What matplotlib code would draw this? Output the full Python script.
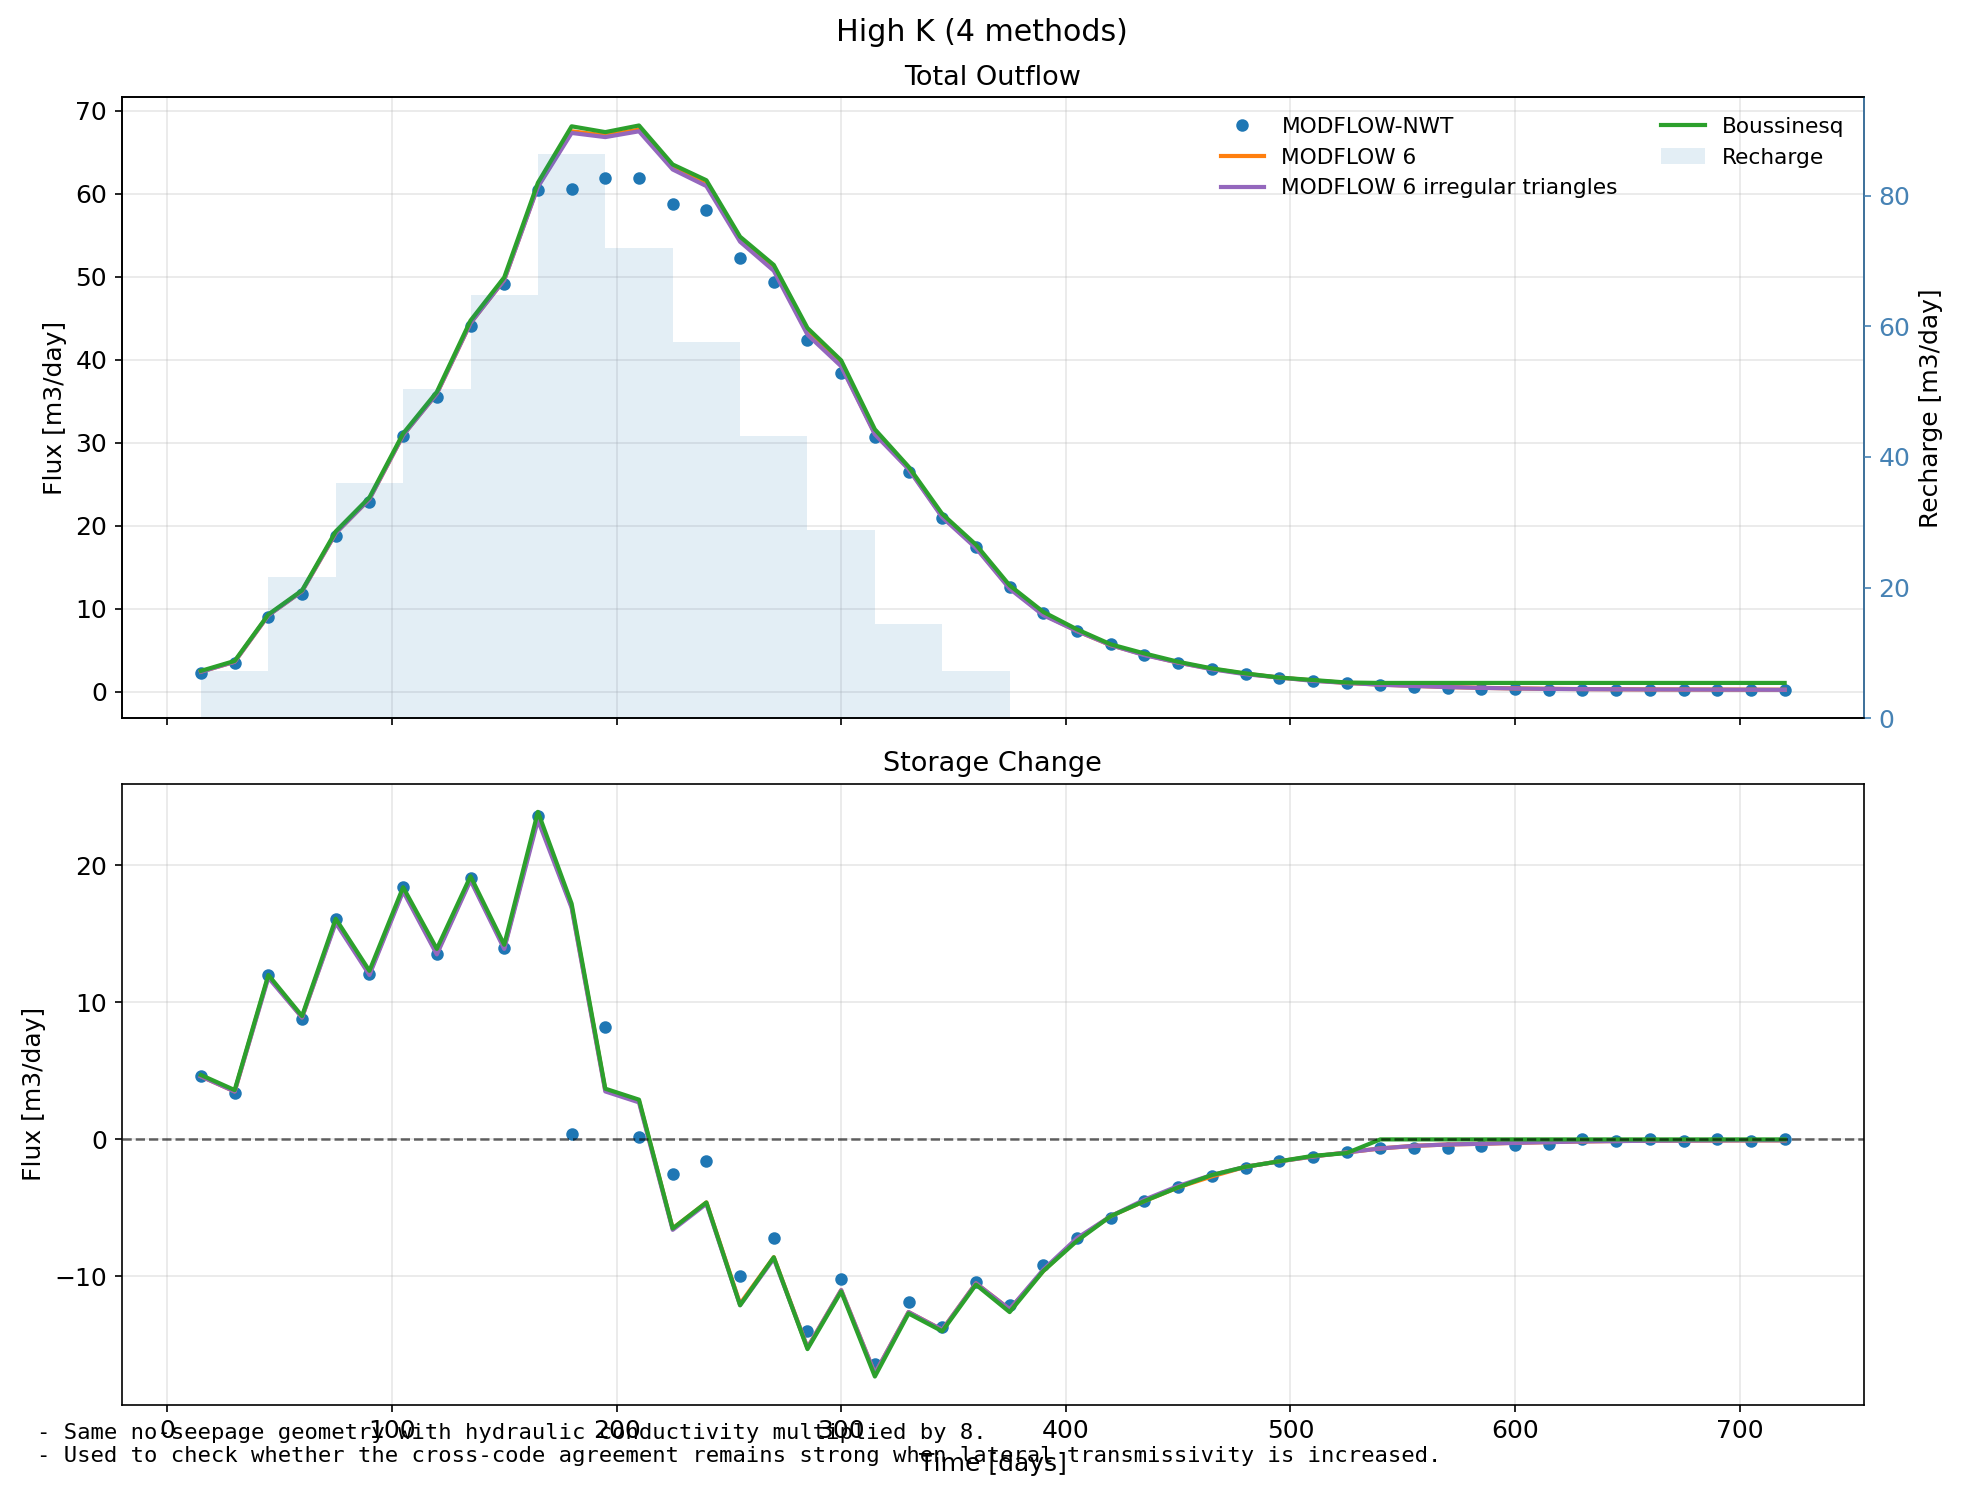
import matplotlib
matplotlib.use("Agg")
import matplotlib.pyplot as plt
import numpy as np

# ---------------- data ----------------
time_days = [15, 30, 45, 60, 75, 90, 105, 120, 135, 150, 165, 180, 195, 210, 225, 240,
             255, 270, 285, 300, 315, 330, 345, 360, 375, 390, 405, 420, 435, 450, 465, 480,
             495, 510, 525, 540, 555, 570, 585, 600, 615, 630, 645, 660, 675, 690, 705, 720]

# Total outflow [m3/day]
outflow_nwt = [2.2, 3.5, 9.0, 11.8, 18.8, 22.9, 30.8, 35.5, 44.0, 49.1, 60.4, 60.6, 61.9, 61.9, 58.8, 58.0,
               52.2, 49.4, 42.3, 38.4, 30.7, 26.5, 20.9, 17.4, 12.6, 9.5, 7.3, 5.7, 4.45, 3.5, 2.7, 2.1,
               1.65, 1.3, 1.05, 0.77, 0.6, 0.45, 0.36, 0.28, 0.22, 0.2, 0.2, 0.19, 0.19, 0.18, 0.18, 0.18]
outflow_mf6 = [2.4, 3.6, 9.2, 12.1, 19.1, 23.2, 30.9, 35.9, 44.4, 49.6, 60.9, 67.5, 67.0, 67.7, 63.1, 61.1,
               54.4, 50.9, 43.2, 39.3, 31.1, 26.9, 21.1, 17.4, 12.5, 9.3, 7.3, 5.6, 4.45, 3.5, 2.75, 2.15,
               1.7, 1.35, 1.05, 0.85, 0.7, 0.56, 0.46, 0.39, 0.34, 0.31, 0.29, 0.27, 0.26, 0.25, 0.24, 0.23]
outflow_mf6_tri = [2.4, 3.6, 9.2, 12.1, 19.1, 23.2, 30.9, 35.9, 44.4, 49.6, 60.8, 67.3, 66.8, 67.5, 62.9, 60.9,
                   54.2, 50.7, 43.0, 39.2, 31.0, 26.8, 21.0, 17.3, 12.4, 9.2, 7.3, 5.6, 4.4, 3.5, 2.7, 2.1,
                   1.7, 1.3, 1.05, 0.83, 0.68, 0.55, 0.45, 0.38, 0.33, 0.3, 0.28, 0.26, 0.25, 0.24, 0.23, 0.22]
outflow_bous = [2.5, 3.7, 9.3, 12.2, 19.3, 23.4, 31.1, 36.1, 44.7, 49.9, 61.3, 68.1, 67.4, 68.2, 63.5, 61.6,
                54.8, 51.4, 43.8, 39.9, 31.6, 27.1, 21.4, 17.7, 12.8, 9.6, 7.5, 5.7, 4.6, 3.6, 2.8, 2.2,
                1.7, 1.4, 1.1, 1.05, 1.05, 1.05, 1.05, 1.05, 1.05, 1.05, 1.05, 1.05, 1.05, 1.05, 1.05, 1.05]

# Storage change [m3/day]
storage_nwt = [4.6, 3.4, 12.0, 8.8, 16.1, 12.1, 18.4, 13.5, 19.1, 14.0, 23.6, 0.4, 8.2, 0.15, -2.5, -1.6,
               -10.0, -7.2, -14.0, -10.2, -16.4, -11.9, -13.7, -10.4, -12.1, -9.2, -7.2, -5.7, -4.5, -3.5, -2.7, -2.1,
               -1.6, -1.3, -0.9, -0.66, -0.6, -0.66, -0.47, -0.42, -0.3, 0.0, -0.12, 0.0, -0.12, 0.0, -0.12, 0.0]
storage_mf6 = [4.6, 3.5, 11.9, 8.9, 15.9, 12.1, 18.2, 13.6, 19.0, 14.0, 23.5, 17.0, 3.6, 2.8, -6.5, -4.6,
               -12.0, -8.6, -15.2, -11.0, -17.1, -12.6, -13.9, -10.5, -12.4, -9.6, -7.3, -5.6, -4.5, -3.5, -2.7, -2.0,
               -1.6, -1.25, -0.95, -0.66, -0.47, -0.37, -0.32, -0.25, -0.2, -0.15, -0.12, -0.1, -0.09, -0.08, -0.07, -0.07]
storage_mf6_tri = [4.6, 3.5, 11.8, 8.9, 15.8, 12.0, 18.1, 13.5, 18.9, 13.9, 23.3, 16.9, 3.5, 2.7, -6.6, -4.7,
                   -12.1, -8.7, -15.2, -11.0, -17.1, -12.6, -13.9, -10.5, -12.4, -9.5, -7.2, -5.6, -4.4, -3.4, -2.6, -2.0,
                   -1.6, -1.25, -0.95, -0.66, -0.47, -0.37, -0.32, -0.25, -0.2, -0.15, -0.12, -0.1, -0.09, -0.08, -0.07, -0.07]
storage_bous = [4.7, 3.6, 12.0, 9.0, 16.1, 12.3, 18.4, 13.9, 19.2, 14.2, 23.9, 17.2, 3.7, 2.9, -6.5, -4.6,
                -12.1, -8.6, -15.3, -11.1, -17.3, -12.7, -14.0, -10.6, -12.6, -9.6, -7.4, -5.6, -4.5, -3.5, -2.6, -2.0,
                -1.6, -1.2, -1.0, 0.0, 0.0, 0.0, 0.0, 0.0, 0.0, 0.0, 0.0, 0.0, 0.0, 0.0, 0.0, 0.0]

# Recharge (30-day blocks)
recharge_start = [15, 45, 75, 105, 135, 165, 195, 225, 255, 285, 315, 345]
recharge_rate = [7.2, 21.6, 36.0, 50.4, 64.8, 86.4, 72.0, 57.6, 43.2, 28.8, 14.4, 7.2]
recharge_width = 30

footnote = ("- Same no-seepage geometry with hydraulic conductivity multiplied by 8.\n"
            "- Used to check whether the cross-code agreement remains strong when lateral transmissivity is increased.")

# ---------------- figure ----------------
plt.rcParams['font.family'] = ['DejaVu Sans']
plt.rcParams['font.size'] = 12

fig, (ax, axs) = plt.subplots(2, 1, sharex=True, figsize=(1964 / 150, 1496 / 150), dpi=150)
fig.subplots_adjust(left=0.062, right=0.949, top=0.935, bottom=0.061, hspace=0.105)

c_nwt, c_mf6, c_tri, c_bous = 'tab:blue', 'tab:orange', 'tab:purple', 'tab:green'

# Top: total outflow
ax.plot(time_days, outflow_nwt, 'o', ms=5, ls='none', color=c_nwt, label='MODFLOW-NWT')
ax.plot(time_days, outflow_mf6, '-', lw=2, color=c_mf6, label='MODFLOW 6')
ax.plot(time_days, outflow_mf6_tri, '-', lw=2, color=c_tri, label='MODFLOW 6 irregular triangles')
ax.plot(time_days, outflow_bous, '-', lw=2, color=c_bous, label='Boussinesq')
ax.set_ylabel('Flux [m3/day]')
ax.set_title('Total Outflow', fontsize=13)
ax.grid(True, alpha=0.3)

ax2 = ax.twinx()
ax2.bar(recharge_start, recharge_rate, width=recharge_width, align='edge',
        color='tab:blue', alpha=0.12, label='Recharge')
ax2.set_ylim(0, max(recharge_rate) * 1.1)
ax2.set_ylabel('Recharge [m3/day]')
ax2.tick_params(axis='y', colors='steelblue')
ax2.spines['right'].set_color('steelblue')

h1, l1 = ax.get_legend_handles_labels()
h2, l2 = ax2.get_legend_handles_labels()
ax2.legend(h1 + h2, l1 + l2, loc='upper right', ncol=2, frameon=False, fontsize=10.4)

# Bottom: storage change
axs.plot(time_days, storage_nwt, 'o', ms=5, ls='none', color=c_nwt, label='MODFLOW-NWT')
axs.plot(time_days, storage_mf6, '-', lw=2, color=c_mf6, label='MODFLOW 6')
axs.plot(time_days, storage_mf6_tri, '-', lw=2, color=c_tri, label='MODFLOW 6 irregular triangles')
axs.plot(time_days, storage_bous, '-', lw=2, color=c_bous, label='Boussinesq')
axs.axhline(0, color='k', ls='--', lw=1.2, alpha=0.6)
axs.set_ylabel('Flux [m3/day]')
axs.set_xlabel('Time [days]')
axs.set_title('Storage Change', fontsize=13)
axs.grid(True, alpha=0.3)

fig.suptitle('High K (4 methods)', fontsize=14.4, y=0.988, va='top')
fig.text(0.019, 0.020, footnote, family='monospace', fontsize=10.7, va='bottom', ha='left')

fig.savefig('out.png', dpi=150)
